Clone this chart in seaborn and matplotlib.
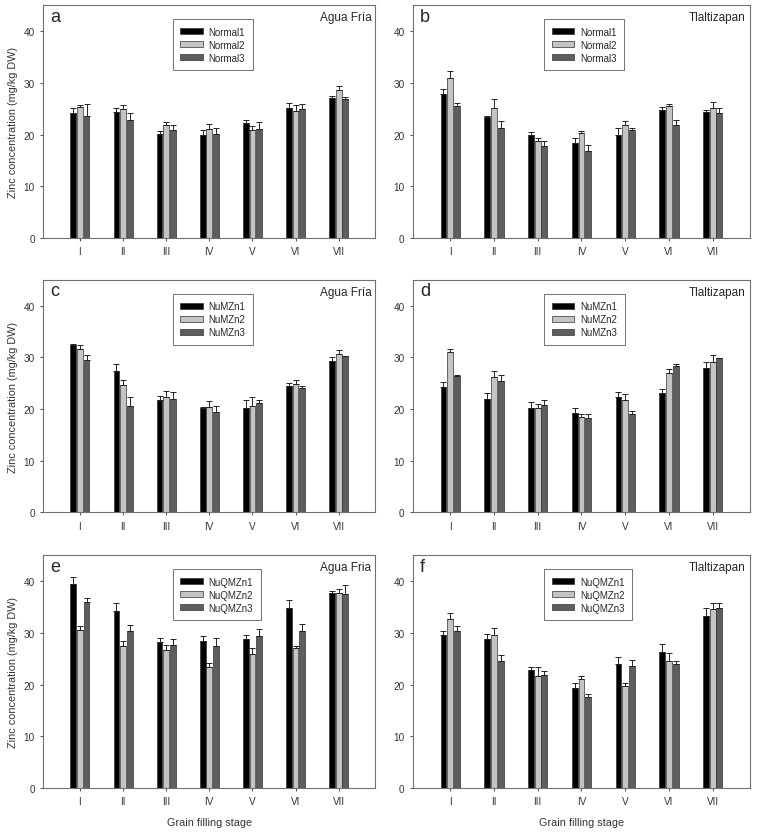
import pandas as pd
import seaborn as sns
import matplotlib.pyplot as plt

stages = ['I', 'II', 'III', 'IV', 'V', 'VI', 'VII']

# panel a - Agua Fria, Normal
a_names = ['Normal1', 'Normal2', 'Normal3']
a_means = [[24.1, 24.3, 20.2, 20.0, 22.2, 25.1, 27.1],
           [25.4, 24.9, 21.8, 21.0, 20.9, 24.6, 28.6],
           [23.6, 22.8, 20.8, 20.2, 21.0, 25.0, 26.8]]
a_errs = [[1.0, 0.8, 0.4, 0.8, 0.6, 1.0, 0.4],
          [0.4, 0.9, 0.7, 1.0, 0.8, 1.2, 0.7],
          [2.4, 1.4, 1.1, 1.1, 1.4, 0.9, 0.4]]

# panel b - Tlaltizapan, Normal
b_names = ['Normal1', 'Normal2', 'Normal3']
b_means = [[27.9, 23.3, 20.0, 18.3, 20.0, 24.7, 24.4],
           [31.0, 25.1, 18.8, 20.3, 21.8, 25.5, 25.1],
           [25.6, 21.2, 17.8, 16.9, 20.8, 21.9, 24.2]]
b_errs = [[1.0, 0.3, 0.4, 1.0, 1.2, 0.6, 0.3],
          [1.2, 1.7, 0.6, 0.3, 0.8, 0.5, 1.1],
          [0.5, 1.4, 1.0, 1.0, 0.4, 1.0, 0.9]]

# panel c - Agua Fria, NuMZn
c_names = ['NuMZn1', 'NuMZn2', 'NuMZn3']
c_means = [[32.4, 27.4, 21.7, 20.3, 20.3, 24.4, 29.3],
           [31.7, 24.6, 22.4, 20.4, 20.6, 24.8, 30.6],
           [29.5, 20.6, 21.9, 19.4, 21.1, 24.0, 30.2]]
c_errs = [[0.1, 1.3, 0.8, 0.1, 1.4, 0.6, 0.7],
          [0.6, 1.0, 1.1, 1.1, 1.7, 0.8, 0.8],
          [1.0, 1.7, 1.5, 1.1, 0.7, 0.5, 0.1]]

# panel d - Tlaltizapan, NuMZn
d_names = ['NuMZn1', 'NuMZn2', 'NuMZn3']
d_means = [[24.2, 22.0, 20.2, 19.3, 22.4, 23.1, 28.0],
           [31.0, 26.3, 20.3, 18.5, 21.8, 27.0, 29.1],
           [26.4, 25.4, 20.7, 18.3, 19.1, 28.3, 29.8]]
d_errs = [[1.1, 1.2, 1.1, 1.0, 0.9, 0.8, 1.2],
          [0.7, 1.0, 0.7, 0.6, 1.2, 0.7, 1.4],
          [0.2, 1.2, 1.0, 0.7, 0.6, 0.5, 0.1]]

# panel e - Agua Fria, NuQMZn
e_names = ['NuQMZn1', 'NuQMZn2', 'NuQMZn3']
e_means = [[39.4, 34.3, 28.3, 28.5, 28.9, 34.8, 37.7],
           [30.6, 27.5, 26.7, 23.5, 26.0, 27.0, 37.8],
           [36.0, 30.4, 27.7, 27.5, 29.4, 30.3, 37.6]]
e_errs = [[1.5, 1.4, 0.8, 0.9, 0.7, 1.5, 0.4],
          [0.7, 1.0, 1.0, 0.6, 1.0, 0.5, 0.6],
          [0.7, 1.2, 1.2, 1.6, 1.4, 1.5, 1.6]]

# panel f - Tlaltizapan, NuQMZn
f_names = ['NuQMZn1', 'NuQMZn2', 'NuQMZn3']
f_means = [[29.6, 28.8, 22.8, 19.4, 24.0, 26.4, 33.3],
           [32.7, 29.6, 21.6, 21.0, 19.7, 24.6, 34.7],
           [30.3, 24.6, 21.9, 17.6, 23.6, 23.9, 34.9]]
f_errs = [[0.7, 1.0, 0.7, 1.0, 1.4, 1.4, 1.6],
          [1.2, 1.4, 1.8, 0.6, 0.6, 1.5, 1.0],
          [1.0, 1.1, 0.7, 0.5, 1.2, 0.7, 0.9]]

panels = [
    ('a', 'Agua Fría', a_names, a_means, a_errs),
    ('b', 'Tlaltizapan', b_names, b_means, b_errs),
    ('c', 'Agua Fría', c_names, c_means, c_errs),
    ('d', 'Tlaltizapan', d_names, d_means, d_errs),
    ('e', 'Agua Fria', e_names, e_means, e_errs),
    ('f', 'Tlaltizapan', f_names, f_means, f_errs),
]

colors = ['#000000', '#c4c4c4', '#5e5e5e']

sns.set_style('ticks')
plt.rcParams['font.family'] = ['Liberation Sans', 'DejaVu Sans']

fig = plt.figure(figsize=(7.57, 8.37), dpi=100)
lefts = [0.0572, 0.5456]
widths = [0.4386, 0.445]
bottoms = [0.7145, 0.3865, 0.0573]
height = 0.278

for i, (letter, site, names, means, errs) in enumerate(panels):
    row, col = divmod(i, 2)
    ax = fig.add_axes([lefts[col], bottoms[row], widths[col], height])

    rows = []
    for name, vals in zip(names, means):
        for st, v in zip(stages, vals):
            rows.append({'stage': st, 'value': v, 'series': name})
    df = pd.DataFrame(rows)

    sns.barplot(data=df, x='stage', y='value', hue='series', palette=colors,
                width=0.46, gap=0.12, errorbar=None, saturation=1,
                edgecolor='#333333', linewidth=0.5, ax=ax)

    # upper error bars on each bar
    for cont, err in zip(ax.containers, errs):
        xs = [p.get_x() + p.get_width() / 2 for p in cont]
        ys = [p.get_height() for p in cont]
        ax.errorbar(xs, ys, yerr=[[0] * len(err), err], fmt='none',
                    ecolor='#222222', elinewidth=0.7, capsize=2.2, capthick=0.7)

    ax.set_ylim(0, 45)
    ax.set_xlim(-0.85, 6.85)
    ax.set_yticks([0, 10, 20, 30, 40])
    ax.tick_params(labelsize=7.2, length=2.5, width=0.6, colors='#333333')
    for sp in ax.spines.values():
        sp.set_visible(True)
        sp.set_color('#707070')
        sp.set_linewidth(0.8)

    ax.set_xlabel('Grain filling stage' if row == 2 else '', fontsize=7.8,
                  color='#333333', labelpad=8)
    ax.set_ylabel('Zinc concentration (mg/kg DW)' if col == 0 else '',
                  fontsize=7.8, color='#333333')

    handles, labels = ax.get_legend_handles_labels()
    leg = ax.legend(handles, labels, loc='upper left', bbox_to_anchor=(0.375, 0.962),
                    fontsize=7, frameon=True, fancybox=False, handlelength=2.3,
                    handleheight=0.55, labelspacing=0.3, borderpad=0.8,
                    handletextpad=0.6)
    leg.get_frame().set_edgecolor('#333333')
    leg.get_frame().set_linewidth(0.6)

    ax.text(0.02, 0.99, letter, transform=ax.transAxes, ha='left', va='top',
            fontsize=13)
    ax.text(0.988, 0.975, site, transform=ax.transAxes, ha='right', va='top',
            fontsize=8.5)

plt.savefig('out.png', dpi=100)
